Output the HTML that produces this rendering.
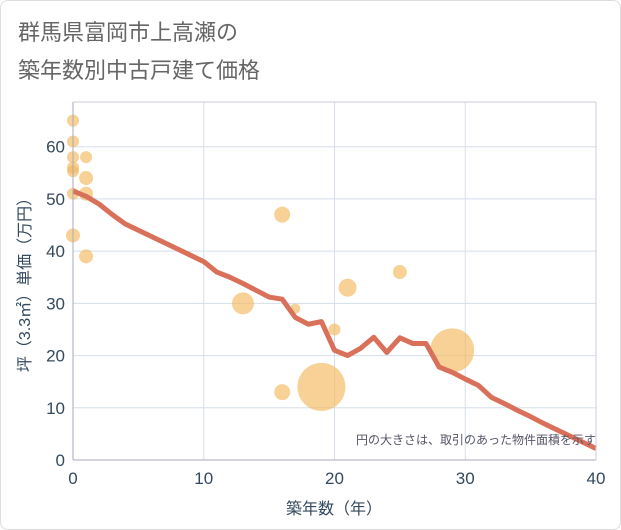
<!DOCTYPE html>
<html><head><meta charset="utf-8"><style>
body{margin:0;background:#fff;font-family:"Liberation Sans","Noto Sans CJK JP",sans-serif}
#wrap{position:relative;width:621px;height:530px;overflow:hidden}
.frame{position:absolute;left:0;top:0;width:619px;height:528px;border:1px solid #ddd;border-radius:8px}
</style></head><body>
<div id="wrap">
<div class="frame"></div>
<svg id="c" width="621" height="530" style="position:absolute;left:0;top:0">
<text x="18" y="40" font-size="22" fill="#666">群馬県富岡市上高瀬の</text>
<text x="18" y="78" font-size="22" fill="#666">築年数別中古戸建て価格</text>
<g id="grid"></g><g id="bub"></g><g id="ln"></g><g id="ax"></g>
<text x="596" y="444" font-size="12" fill="#556" text-anchor="end">円の大きさは、取引のあった物件面積を示す</text>
<text x="334" y="514" font-size="16" fill="#34495e" text-anchor="middle">築年数（年）</text>
<text transform="translate(30,281) rotate(-90)" font-size="16" fill="#34495e" text-anchor="middle">坪（3.3㎡）単価（万円）</text>
</svg></div>
<script>
const xTicks=[0,10,20,30,40];
const yTicks=[0,10,20,30,40,50,60];
const lineX=[0,1,2,3,4,5,6,7,8,9,10,11,12,13,14,15,16,17,18,19,20,21,22,23,24,25,26,27,28,29,30,31,32,33,34,35,36,37,38,39,40];
const lineY=[51.5,50.5,49,47,45.2,44,42.8,41.6,40.4,39.2,38,36,35,33.8,32.5,31.2,30.8,27.3,26,26.5,21,20,21.4,23.5,20.6,23.4,22.3,22.3,17.8,16.8,15.5,14.3,12,10.8,9.5,8.3,7,5.8,4.6,3.4,2.2];
const bubX=[0,0,0,0,0,0,0,1,1,1,1,16,13,17,20,21,25,16,19,29];
const bubY=[65,61,58,56,55.3,51,43,58,54,51,39,47,30,29,25,33,36,13,14,21];
const bubR=[6,6,6,6,6,6,7,6,7,7,7,8,11,5,6,9,7,8,24,22];
const X0=73,X1=596,Y0=460,Y1=102;
const sx=v=>X0+(X1-X0)*v/40, sy=v=>Y0-(Y0-146.7)*v/60;
const NS="http://www.w3.org/2000/svg";
function mk(p,t,a){const e=document.createElementNS(NS,t);for(const k in a)e.setAttribute(k,a[k]);document.getElementById(p).appendChild(e);return e;}
xTicks.forEach(v=>{const e=mk('grid','line',{x1:sx(v),x2:sx(v),y1:Y1,y2:Y0,stroke:'#d5dfea','stroke-width':1});


const t=mk('ax','text',{x:sx(v),y:Y0+24,'font-size':17,fill:'#34495e','text-anchor':'middle'});t.textContent=v;

});
yTicks.forEach(v=>{const e=mk('grid','line',{x1:X0,x2:X1,y1:sy(v),y2:sy(v),stroke:'#d5dfea','stroke-width':1});


const t=mk('ax','text',{x:X0-8,y:sy(v)+6,'font-size':17,fill:'#34495e','text-anchor':'end'});t.textContent=v;

});
const a1=mk('ax','line',{x1:X0,x2:X0,y1:Y1,y2:Y0,stroke:'#aab','stroke-width':1});


const a2=mk('ax','line',{x1:X0,x2:X1,y1:Y0,y2:Y0,stroke:'#aab','stroke-width':1});


const a3=mk('ax','line',{x1:X1,x2:X1,y1:Y1,y2:Y0,stroke:'#ccd','stroke-width':1});


const a4=mk('ax','line',{x1:X0,x2:X1,y1:Y1,y2:Y1,stroke:'#ccd','stroke-width':1});


bubX.forEach((v,i)=>{const c=mk('bub','circle',{cx:sx(v),cy:sy(bubY[i]),r:bubR[i],fill:'#f2b85c','fill-opacity':0.65});

});
const p=mk('ln','polyline',{points:lineX.map((v,i)=>sx(v)+','+sy(lineY[i])).join(' '),fill:'none',stroke:'#d9705a','stroke-width':5,'stroke-linejoin':'round'});


</script></body></html>
